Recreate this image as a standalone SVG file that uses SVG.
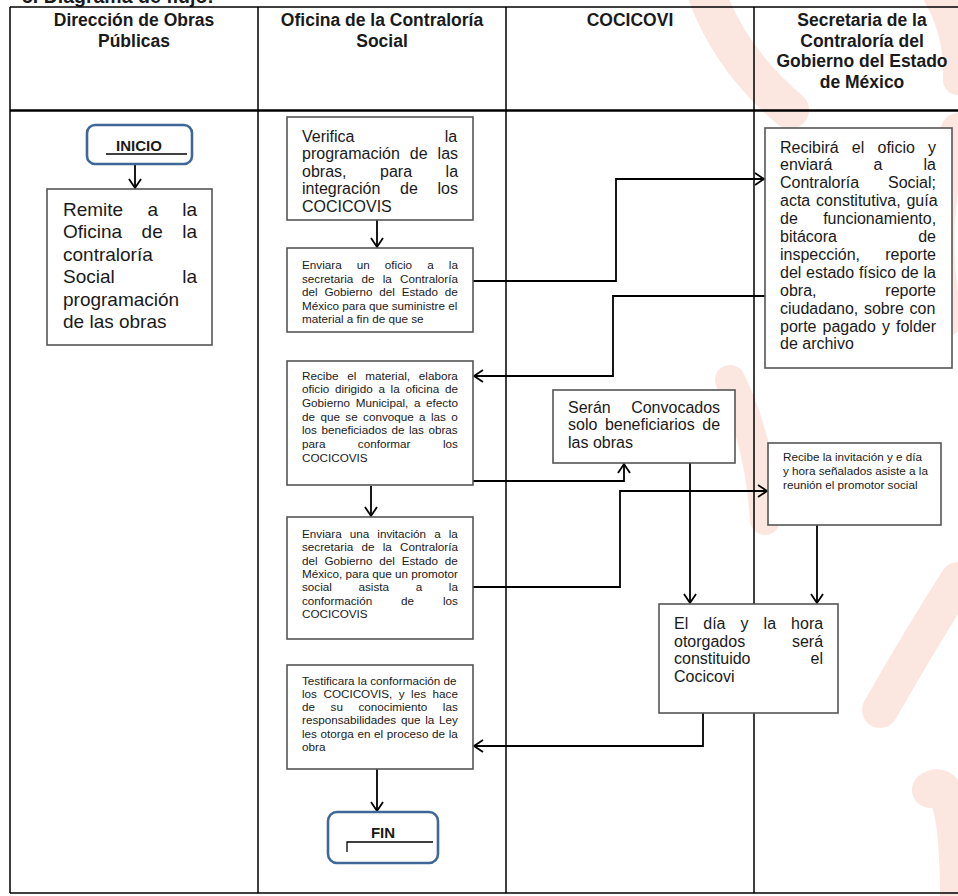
<svg xmlns="http://www.w3.org/2000/svg" width="958" height="896" viewBox="0 0 958 896">
<defs>
<style>
.wm{fill:none;stroke:#fbe7e0;stroke-linecap:round}
.grid{stroke:#000;stroke-width:1.5;fill:none}
.box{fill:#fff;stroke:#555;stroke-width:1.6}
.term{fill:#fff;stroke:#3f6797;stroke-width:2.6}
.conn{fill:none;stroke:#000;stroke-width:1.8}
.ul{fill:none;stroke:#000;stroke-width:1.3}
text{font-family:"Liberation Sans",Arial,sans-serif;fill:#1a1a1a}
.h{font-weight:bold;font-size:17.5px;text-anchor:middle}
.b{font-weight:bold;font-size:15px;text-anchor:middle}
.s{font-size:11.7px}
.m{font-size:16px}
.l{font-size:19px}
</style>
<marker id="arr" markerWidth="12" markerHeight="14" refX="10" refY="7" orient="auto" markerUnits="userSpaceOnUse">
<path d="M1,1 L10,7 L1,13" fill="none" stroke="#000" stroke-width="1.8"/>
</marker>
</defs>

<g id="watermark">
<path class="wm" stroke-width="38" d="M705,-10 Q730,60 790,110"/>
<path class="wm" stroke-width="30" d="M935,-10 Q960,30 958,80"/>
<path class="wm" stroke-width="34" d="M958,130 Q925,210 945,320"/>
<path class="wm" stroke-width="30" d="M730,380 Q760,440 765,520"/>
<path class="wm" stroke-width="36" d="M880,710 Q920,640 958,580"/>
<path class="wm" stroke-width="36" d="M930,790 Q958,770 958,900"/>
</g>

<text x="22" y="3" style="font-weight:bold;font-size:19.5px">5. Diagrama de flujo:</text>

<g id="table">
<path class="grid" d="M10,7 H958 M10,7 V893 M258,7 V893 M506,7 V893 M754,7 V893 M10,893 H958"/>
<path d="M10,110.5 H958" stroke="#000" stroke-width="2.6"/>
<text class="h" x="134" y="26">Dirección de Obras</text>
<text class="h" x="134" y="46.5">Públicas</text>
<text class="h" x="382" y="26">Oficina de la Contraloría</text>
<text class="h" x="382" y="46.5">Social</text>
<text class="h" x="630" y="26">COCICOVI</text>
<text class="h" x="862" y="26">Secretaria de la</text>
<text class="h" x="862" y="46.7">Contraloría del</text>
<text class="h" x="862" y="67.3">Gobierno del Estado</text>
<text class="h" x="862" y="88">de México</text>
</g>

<g id="connectors">
<path class="conn" marker-end="url(#arr)" d="M135,164 V188"/>
<path class="conn" marker-end="url(#arr)" d="M377,220 V247"/>
<path class="conn" marker-end="url(#arr)" d="M473,281 H616 V179 H764"/>
<path class="conn" marker-end="url(#arr)" d="M765,296 H613 V376 H474"/>
<path class="conn" marker-end="url(#arr)" d="M473,481 H624 V464"/>
<path class="conn" marker-end="url(#arr)" d="M371,486 V516"/>
<path class="conn" marker-end="url(#arr)" d="M473,587 H620 V491 H767"/>
<path class="conn" marker-end="url(#arr)" d="M690,463 V603"/>
<path class="conn" marker-end="url(#arr)" d="M817,525 V603"/>
<path class="conn" marker-end="url(#arr)" d="M703,713 V746 H474"/>
<path class="conn" marker-end="url(#arr)" d="M377,769 V811"/>
</g>

<g id="inicio">
<rect class="term" x="87" y="125" width="105" height="39" rx="8"/>
<text class="b" x="139" y="151">INICIO</text>
<path class="ul" d="M106,154 H187"/>
</g>

<g id="remite">
<rect class="box" x="47" y="189" width="165" height="156"/>
<text class="l" x="63" y="215.5" style="word-spacing:18.95px">Remite a la</text>
<text class="l" x="63" y="238" style="word-spacing:14.2px">Oficina de la</text>
<text class="l" x="63" y="260.5">contraloría</text>
<text class="l" x="63" y="283" style="word-spacing:62.2px">Social la</text>
<text class="l" x="63" y="305.5">programación</text>
<text class="l" x="63" y="328">de las obras</text>
</g>

<g id="verifica">
<rect class="box" x="287" y="117" width="186" height="103"/>
<text class="m" x="302" y="141.5" style="word-spacing:85.8px">Verifica la</text>
<text class="m" x="302" y="159" style="word-spacing:5.55px">programación de las</text>
<text class="m" x="302" y="176.5" style="word-spacing:29.1px">obras, para la</text>
<text class="m" x="302" y="194" style="word-spacing:15.3px">integración de los</text>
<text class="m" x="302" y="211.5">COCICOVIS</text>
</g>

<g id="enviara-oficio">
<rect class="box" x="287" y="248" width="186" height="84"/>
<text class="s" x="302" y="269" style="word-spacing:11.85px">Enviara un oficio a la</text>
<text class="s" x="302" y="282.5" style="word-spacing:4.97px">secretaria de la Contraloría</text>
<text class="s" x="302" y="296" style="word-spacing:3.55px">del Gobierno del Estado de</text>
<text class="s" x="302" y="309.5">México para que suministre el</text>
<text class="s" x="302" y="323">material a fin de que se</text>
</g>

<g id="recibira">
<rect class="box" x="765" y="128" width="187" height="240"/>
<text class="m" x="780" y="152.5" style="word-spacing:8.73px">Recibirá el oficio y</text>
<text class="m" x="780" y="170.4" style="word-spacing:36.65px">enviará a la</text>
<text class="m" x="780" y="188.3" style="word-spacing:24.4px">Contraloría Social;</text>
<text class="m" x="780" y="206.2" style="word-spacing:1.4px">acta constitutiva, guía</text>
<text class="m" x="780" y="224.1" style="word-spacing:20.9px">de funcionamiento,</text>
<text class="m" x="780" y="242" style="word-spacing:76.8px">bitácora de</text>
<text class="m" x="780" y="259.9" style="word-spacing:20.8px">inspección, reporte</text>
<text class="m" x="780" y="277.8" style="word-spacing:0.3px">del estado físico de la</text>
<text class="m" x="780" y="295.7" style="word-spacing:64.4px">obra, reporte</text>
<text class="m" x="780" y="313.6" style="word-spacing:1.2px">ciudadano, sobre con</text>
<text class="m" x="780" y="331.5" style="word-spacing:1.6px">porte pagado y folder</text>
<text class="m" x="780" y="349.4">de archivo</text>
</g>

<g id="recibe-material">
<rect class="box" x="287" y="361" width="186" height="124"/>
<text class="s" x="302" y="379.5" style="word-spacing:5.6px">Recibe el material, elabora</text>
<text class="s" x="302" y="393.2" style="word-spacing:2.46px">oficio dirigido a la oficina de</text>
<text class="s" x="302" y="406.9" style="word-spacing:2.37px">Gobierno Municipal, a efecto</text>
<text class="s" x="302" y="420.6" style="word-spacing:2.15px">de que se convoque a las o</text>
<text class="s" x="302" y="434.3" style="word-spacing:1.22px">los beneficiados de las obras</text>
<text class="s" x="302" y="448" style="word-spacing:29.2px">para conformar los</text>
<text class="s" x="302" y="461.7">COCICOVIS</text>
</g>

<g id="seran">
<rect class="box" x="553" y="390" width="182" height="73"/>
<text class="m" x="568" y="412.5" style="word-spacing:16px">Serán Convocados</text>
<text class="m" x="568" y="430" style="word-spacing:3.1px">solo beneficiarios de</text>
<text class="m" x="568" y="447.5">las obras</text>
</g>

<g id="recibe-invitacion">
<rect class="box" x="768" y="443" width="173" height="82"/>
<text class="s" x="783" y="461">Recibe la invitación y e día</text>
<text class="s" x="783" y="475">y hora señalados asiste a la</text>
<text class="s" x="783" y="489">reunión el promotor social</text>
</g>

<g id="enviara-invitacion">
<rect class="box" x="287" y="517" width="186" height="122"/>
<text class="s" x="302" y="538" style="word-spacing:4.85px">Enviara una invitación a la</text>
<text class="s" x="302" y="551.3" style="word-spacing:4.97px">secretaria de la Contraloría</text>
<text class="s" x="302" y="564.6" style="word-spacing:3.55px">del Gobierno del Estado de</text>
<text class="s" x="302" y="577.9">México, para que un promotor</text>
<text class="s" x="302" y="591.2" style="word-spacing:23.4px">social asista a la</text>
<text class="s" x="302" y="604.5" style="word-spacing:25.65px">conformación de los</text>
<text class="s" x="302" y="617.8">COCICOVIS</text>
</g>

<g id="el-dia">
<rect class="box" x="659" y="604" width="179" height="109"/>
<text class="m" x="674" y="629" style="word-spacing:10.6px">El día y la hora</text>
<text class="m" x="674" y="646.5" style="word-spacing:42.3px">otorgados será</text>
<text class="m" x="674" y="664" style="word-spacing:55.6px">constituido el</text>
<text class="m" x="674" y="681.5">Cocicovi</text>
</g>

<g id="testificara">
<rect class="box" x="287" y="665" width="186" height="104"/>
<text class="s" x="302" y="684.5">Testificara la conformación de</text>
<text class="s" x="302" y="697.8" style="word-spacing:3.25px">los COCICOVIS, y les hace</text>
<text class="s" x="302" y="711.1" style="word-spacing:12.3px">de su conocimiento las</text>
<text class="s" x="302" y="724.4" style="word-spacing:1.5px">responsabilidades que la Ley</text>
<text class="s" x="302" y="737.7" style="word-spacing:0.42px">les otorga en el proceso de la</text>
<text class="s" x="302" y="751">obra</text>
</g>

<g id="fin">
<rect class="term" x="328" y="812" width="110" height="51" rx="9"/>
<text class="b" x="383" y="838">FIN</text>
<path class="ul" d="M347,852 V842 H433"/>
</g>
</svg>
